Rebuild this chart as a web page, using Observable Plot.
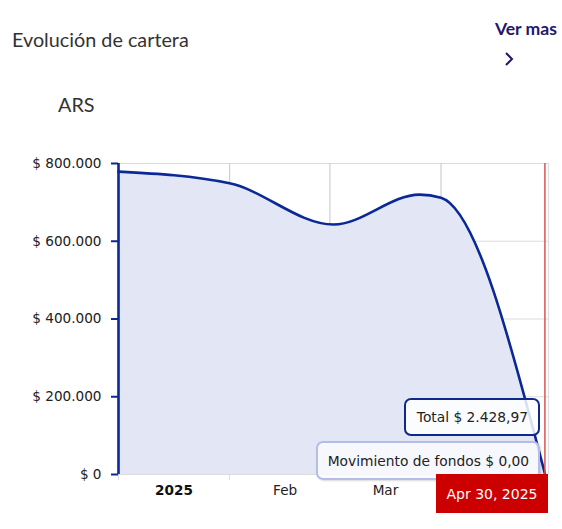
<!DOCTYPE html>
<html><head><meta charset="utf-8">
<script src="https://cdn.jsdelivr.net/npm/d3@7"></script>
<script src="https://cdn.jsdelivr.net/npm/@observablehq/plot@0.6"></script>
<style>
body{margin:0;background:#fff;}
#wrap{position:relative;width:562px;height:529px;overflow:hidden;font-family:Lato,sans-serif;}
#title{position:absolute;left:12px;top:27px;font-size:19.8px;color:#333;white-space:nowrap;}
#vermas{position:absolute;right:5px;top:18px;font-size:17.6px;font-weight:bold;color:#23186e;white-space:nowrap;}
#chev{position:absolute;left:503px;top:51px;}
#ars{position:absolute;left:58px;top:92px;font-size:19.8px;color:#333;}
.tip{position:absolute;box-sizing:border-box;font-family:"DejaVu Sans",Verdana,sans-serif;font-size:13.8px;color:#222;display:flex;align-items:center;justify-content:center;white-space:nowrap;}
#tipTotal{border:2.5px solid #0d2a8a;border-radius:7px;background:rgba(255,255,255,0.85);}
#tipMov{border:2.5px solid #b3bde6;border-radius:7px;background:rgba(250,250,254,0.85);box-shadow:1px 1px 2px rgba(0,0,0,0.15);}
#tipDate{background:#cc0000;color:#fff;font-size:14px;}
</style>
</head><body>
<div id="wrap">
  <div id="title">Evolución de cartera</div>
  <div id="vermas">Ver mas</div>
  <svg id="chev" width="12" height="16" viewBox="0 0 12 16"><polyline points="3,2 9,8 3,14" fill="none" stroke="#23186e" stroke-width="2"/></svg>
  <div id="ars">ARS</div>
</div>
<script>
// Data
const dates = ["2025-01-01", "2025-02-01", "2025-03-02", "2025-03-26", "2025-04-01", "2025-04-30"];
const values = [779000, 749000, 643000, 720000, 712000, 2428.97];
const movimiento = 0;
const yTicks = [0, 200000, 400000, 600000, 800000];
const monthStarts = ["2025-01-01", "2025-02-01", "2025-03-01", "2025-04-01"];
// visible month labels (the April label is hidden under the date badge)
const labelStarts = ["2025-01-01", "2025-02-01", "2025-03-01"];
const monthLabels = ["2025", "Feb", "Mar"];
const domainX = ["2025-01-01", "2025-05-01"];
const dateLabel = "Apr 30, 2025";

const parse = d3.utcParse("%Y-%m-%d");
const data = dates.map((d, i) => ({date: parse(d), value: values[i]}));
const starts = monthStarts.map(parse);
const xDomain = domainX.map(parse);
const mids = labelStarts.map(parse).map(s => d3.utcHour.offset(s, 15.5 * 24));
const labelOf = new Map(mids.map((m, i) => [+m, monthLabels[i]]));
const lastDate = data[data.length - 1].date;

const fmtNum = (v, dec) => {
  const [int, frac] = v.toFixed(dec).split(".");
  const withSep = int.replace(/\B(?=(\d{3})+(?!\d))/g, ".");
  return frac ? withSep + "," + frac : withSep;
};

const blue = "#0a2896";
const font = "'DejaVu Sans', Verdana, sans-serif";

const chart = Plot.plot({
  width: 562,
  height: 529,
  marginTop: 163,
  marginLeft: 118,
  marginRight: 14,
  marginBottom: 55,
  style: {fontFamily: font, fontSize: "13.6px", color: "#222", background: "transparent"},
  x: {type: "utc", domain: xDomain},
  y: {domain: [0, 800000]},
  marks: [
    Plot.gridY(yTicks, {stroke: "#dcdcdc", strokeOpacity: 1, strokeWidth: 1.2}),
    Plot.gridX(starts, {stroke: "#cdcfd8", strokeOpacity: 1, strokeWidth: 1.2}),
    Plot.ruleX([xDomain[1]], {stroke: "#dcdcdc", strokeWidth: 1.2}),
    Plot.areaY(data, {x: "date", y: "value", curve: "monotone-x", fill: "#e3e7f5"}),
    Plot.lineY(data, {x: "date", y: "value", curve: "monotone-x", stroke: blue, strokeWidth: 2.6}),
    Plot.ruleX([lastDate], {stroke: "#d9534f", strokeWidth: 1.5}),
    Plot.ruleX([xDomain[0]], {stroke: blue, strokeWidth: 2.6}),
    Plot.axisY(yTicks, {tickSize: 7, stroke: blue, strokeWidth: 2, fill: "#222", tickPadding: 10,
      tickFormat: v => "$ " + fmtNum(v, 0), fontSize: 13.6, label: null}),
    Plot.axisX(starts, {tickSize: 6, stroke: "#dcdcdc", fill: "none", label: null}),
    Plot.axisX(mids.slice(0, 1), {tickSize: 0, tickPadding: 11, fill: "#111", fontWeight: "bold",
      tickFormat: d => labelOf.get(+d), fontSize: 13.6, label: null}),
    Plot.axisX(mids.slice(1), {tickSize: 0, tickPadding: 11, fill: "#222",
      tickFormat: d => labelOf.get(+d), fontSize: 13.6, label: null})
  ]
});
chart.style.position = "absolute";
chart.style.left = "0px";
chart.style.top = "0px";
const wrap = document.getElementById("wrap");
wrap.insertBefore(chart, wrap.firstChild);

// Tooltip overlay anchored via the chart's scales
const sx = chart.scale("x"), sy = chart.scale("y");
const px = sx.apply(lastDate);
const right = sx.apply(xDomain[1]);
const bottom = sy.apply(0);
const last = data[data.length - 1];

function tip(id, text, l, t, w, h) {
  const el = document.createElement("div");
  el.id = id; el.className = "tip"; el.textContent = text;
  Object.assign(el.style, {left: l + "px", top: t + "px", width: w + "px", height: h + "px"});
  wrap.appendChild(el);
}
tip("tipTotal", "Total $ " + fmtNum(last.value, 2), px - 140, bottom - 76, 136, 38);
tip("tipMov", "Movimiento de fondos $ " + fmtNum(movimiento, 2), px - 228, bottom - 33, 224, 39);
tip("tipDate", dateLabel, right - 112, bottom, 112, 39);
</script>
</body></html>
